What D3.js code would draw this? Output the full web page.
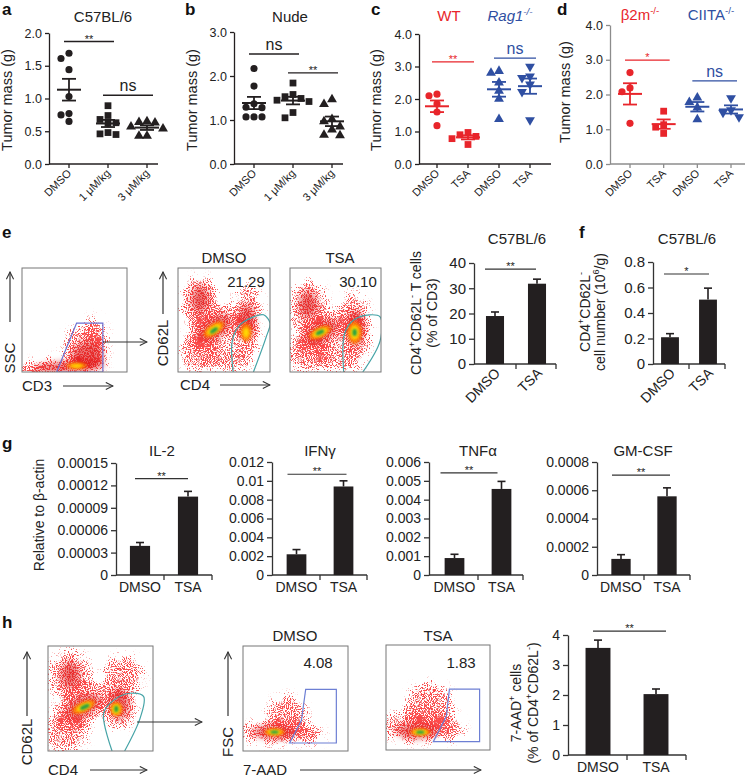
<!DOCTYPE html>
<html><head><meta charset="utf-8">
<script src="https://cdn.jsdelivr.net/npm/d3@7"></script>
<style>body{margin:0;background:#fff}svg{display:block}</style>
</head><body><script>
// ================= DATA =================
// Panel a – C57BL/6 tumour mass (g)
const aCats = ["DMSO", "1 μM/kg", "3 μM/kg"];
const aDMSO = [1.69, 1.61, 1.44, 1.03, 0.77, 0.75, 0.65];
const aLow  = [0.89, 0.74, 0.68, 0.63, 0.62, 0.48, 0.46, 0.45];
const aHigh = [0.65, 0.64, 0.63, 0.57, 0.54, 0.43, 0.43];
const aTicks = [0, 0.5, 1, 1.5, 2];
// Panel b – Nude
const bCats = ["DMSO", "1 μM/kg", "3 μM/kg"];
const bDMSO = [2.17, 1.77, 1.37, 1.29, 1.28, 1.07, 1.07, 1.07];
const bLow  = [1.84, 1.58, 1.53, 1.49, 1.45, 1.42, 1.17, 1.05];
const bHigh = [1.47, 1.36, 1.02, 0.97, 0.85, 0.78, 0.66, 0.65];
const bTicks = [0, 1, 2, 3];
// Panel c – WT / Rag1-/-
const cCats = ["DMSO", "TSA", "DMSO", "TSA"];
const cWtDMSO  = [2.15, 2.10, 1.85, 1.60, 1.18];
const cWtTSA   = [0.97, 0.90, 0.85, 0.78, 0.60];
const cRagDMSO = [2.86, 2.80, 2.50, 2.25, 2.00, 1.38];
const cRagTSA  = [3.00, 2.70, 2.65, 2.45, 2.22, 1.35];
const cTicks = [0, 1, 2, 3, 4];
// Panel d – β2m-/- / CIITA-/-
const dCats = ["DMSO", "TSA", "DMSO", "TSA"];
const dB2mDMSO   = [2.63, 2.19, 2.08, 1.17];
const dB2mTSA    = [1.52, 1.13, 1.06, 0.88];
const dCiitaDMSO = [1.91, 1.78, 1.62, 1.28];
const dCiitaTSA  = [1.90, 1.55, 1.48, 1.35];
const dTicks = [0, 1, 2, 3, 4];
// Bar panels
const barCats = ["DMSO", "TSA"];
const eMean = [19.0, 31.8],   eSem = [1.6, 1.8];
const eTicks = [0, 10, 20, 30, 40], eTickLabels = ["0", "10", "20", "30", "40"];
const fMean = [0.21, 0.505],  fSem = [0.028, 0.09];
const fTicks = [0, 0.2, 0.4, 0.6, 0.8], fTickLabels = ["0", "0.2", "0.4", "0.6", "0.8"];
const il2Mean = [0.000039, 0.000105], il2Sem = [0.0000045, 0.000007];
const il2Ticks = [0, 0.00003, 0.00006, 0.00009, 0.00012, 0.00015];
const il2TickLabels = ["0", "0.00003", "0.00006", "0.00009", "0.00012", "0.00015"];
const ifnMean = [0.0022, 0.0094], ifnSem = [0.0005, 0.0006];
const ifnTicks = [0, 0.002, 0.004, 0.006, 0.008, 0.01, 0.012];
const ifnTickLabels = ["0", "0.002", "0.004", "0.006", "0.008", "0.01", "0.012"];
const tnfMean = [0.0009, 0.00457], tnfSem = [0.0002, 0.0004];
const tnfTicks = [0, 0.001, 0.002, 0.003, 0.004, 0.005, 0.006];
const tnfTickLabels = ["0", "0.001", "0.002", "0.003", "0.004", "0.005", "0.006"];
const gmMean = [0.000114, 0.000557], gmSem = [0.00003, 0.00006];
const gmTicks = [0, 0.0002, 0.0004, 0.0006, 0.0008];
const gmTickLabels = ["0", "0.0002", "0.0004", "0.0006", "0.0008"];
const hMean = [3.57, 2.03], hSem = [0.26, 0.17];
const hTicks = [0, 1, 2, 3, 4], hTickLabels = ["0", "1", "2", "3", "4"];
// Flow-cytometry gate percentages
const eGatePct = ["21.29", "30.10"];
const hGatePct = ["4.08", "1.83"];
// Flow-cytometry density clusters: [x, y, rx, ry, angle, layer] in axis fractions
const flowE1Blobs = [
  [0.38,0.06,0.44,0.08,-6,"r"],[0.60,0.22,0.20,0.22,-30,"r"],[0.70,0.36,0.10,0.17,-10,"r"],[0.10,0.03,0.14,0.05,0,"r"],
  [0.45,0.05,0.34,0.05,-4,"R"],[0.62,0.16,0.15,0.13,-30,"R"],
  [0.52,0.06,0.10,0.03,0,"o"],[0.52,0.06,0.06,0.02,0,"y"]];
const flowE1Gate = [[0.52,0.47],[0.77,0.47],[0.77,0.0],[0.33,0.0]];
const flowE2Blobs = [
  [0.24,0.66,0.21,0.26,0,"r"],[0.40,0.42,0.32,0.18,-35,"r"],[0.76,0.60,0.16,0.23,0,"r"],[0.74,0.34,0.16,0.18,0,"r"],
  [0.22,0.20,0.22,0.18,0,"r"],[0.55,0.12,0.26,0.11,0,"r"],
  [0.24,0.70,0.09,0.13,0,"R"],[0.40,0.42,0.20,0.09,-35,"R"],[0.75,0.48,0.08,0.17,0,"R"],
  [0.39,0.41,0.13,0.055,-35,"o"],[0.39,0.41,0.09,0.035,-35,"y"],[0.39,0.40,0.05,0.02,-35,"g"],
  [0.74,0.38,0.06,0.09,0,"o"],[0.74,0.38,0.035,0.05,0,"y"]];
const flowE2Gate = [[0.60,0],[0.59,0.30],[0.67,0.45],[0.82,0.53],[0.93,0.55],[1.0,0.47],[0.96,0.34],[0.82,0]];
const flowE3Blobs = [
  [0.20,0.62,0.21,0.26,0,"r"],[0.36,0.38,0.32,0.18,-30,"r"],[0.70,0.55,0.16,0.21,0,"r"],[0.72,0.34,0.17,0.19,0,"r"],
  [0.20,0.18,0.22,0.17,0,"r"],[0.55,0.12,0.26,0.11,0,"r"],
  [0.20,0.65,0.09,0.13,0,"R"],[0.34,0.38,0.20,0.09,-30,"R"],[0.72,0.42,0.09,0.17,0,"R"],
  [0.33,0.38,0.13,0.05,-25,"o"],[0.33,0.38,0.09,0.035,-25,"y"],[0.33,0.38,0.05,0.02,-25,"g"],
  [0.71,0.38,0.08,0.11,0,"o"],[0.71,0.38,0.05,0.07,0,"y"],[0.71,0.38,0.025,0.035,0,"g"]];
const flowE3Gate = [[0.59,0],[0.60,0.37],[0.70,0.50],[0.88,0.55],[0.99,0.53],[0.99,0.30],[0.80,0]];
const flowH1Blobs = [
  [0.21,0.72,0.20,0.24,0,"r"],[0.33,0.44,0.30,0.19,-30,"r"],[0.72,0.72,0.19,0.19,0,"r"],[0.67,0.40,0.17,0.19,0,"r"],
  [0.18,0.18,0.20,0.18,0,"r"],
  [0.21,0.72,0.08,0.12,0,"R"],[0.33,0.42,0.18,0.09,-30,"R"],[0.68,0.45,0.09,0.14,0,"R"],
  [0.34,0.42,0.12,0.05,-25,"o"],[0.34,0.42,0.08,0.03,-25,"y"],[0.35,0.42,0.05,0.02,-25,"g"],
  [0.65,0.40,0.06,0.07,0,"o"],[0.65,0.40,0.04,0.05,0,"y"],[0.65,0.40,0.02,0.03,0,"g"]];
const flowH1Gate = [[0.61,0],[0.53,0.36],[0.62,0.48],[0.78,0.55],[0.91,0.52],[0.88,0.32],[0.73,0]];
const flowH2Blobs = [
  [0.30,0.18,0.36,0.11,0,"r"],[0.42,0.32,0.19,0.21,0,"r"],[0.64,0.15,0.13,0.08,0,"r"],
  [0.30,0.18,0.20,0.06,0,"R"],[0.30,0.18,0.10,0.035,0,"o"],[0.30,0.18,0.07,0.025,0,"y"],[0.30,0.18,0.04,0.015,0,"g"]];
const flowH2Gate = [[0.597,0.586],[0.889,0.586],[0.889,0.076],[0.444,0.076],[0.556,0.29]];
const flowH3Blobs = [
  [0.28,0.22,0.34,0.15,0,"r"],[0.42,0.40,0.23,0.25,0,"r"],[0.62,0.20,0.13,0.11,0,"r"],
  [0.30,0.18,0.20,0.07,0,"R"],[0.33,0.17,0.10,0.035,0,"o"],[0.33,0.17,0.07,0.025,0,"y"],[0.33,0.17,0.04,0.015,0,"g"]];
const flowH3Gate = [[0.61,0.58],[0.90,0.58],[0.90,0.08],[0.455,0.08],[0.58,0.32]];

// ================= SETUP =================
const FONT = '"Liberation Sans", Arial, Helvetica, sans-serif';
const INK = "#231f20", RED = "#e8252b", BLUE = "#2f4fa2";
const svg = d3.select("body").append("svg").attr("width", 746).attr("height", 780)
  .style("font-family", FONT);
const defs = svg.append("defs");

(function(){
  const sp = defs.append("filter").attr("id","speck").attr("x","-30%").attr("y","-30%")
    .attr("width","160%").attr("height","160%").attr("color-interpolation-filters","sRGB");
  sp.append("feGaussianBlur").attr("in","SourceGraphic").attr("stdDeviation",4).attr("result","b");
  sp.append("feTurbulence").attr("type","fractalNoise").attr("baseFrequency",0.95).attr("numOctaves",1).attr("seed",4).attr("result","n");
  sp.append("feColorMatrix").attr("in","n").attr("type","matrix")
    .attr("values","0 0 0 0 0  0 0 0 0 0  0 0 0 0 0  3 0 0 0 -1.1").attr("result","na");
  sp.append("feFlood").attr("flood-color","#ef1b1b").attr("result","fl");
  sp.append("feComposite").attr("in","fl").attr("in2","na").attr("operator","in").attr("result","nred");
  sp.append("feComposite").attr("in","b").attr("in2","nred").attr("operator","arithmetic")
    .attr("k1",0).attr("k2",1).attr("k3",0.8).attr("k4",0).attr("result","m");
  sp.append("feComponentTransfer").attr("in","m").append("feFuncA").attr("type","linear").attr("slope",4).attr("intercept",-3.2);
  [["b1",1.2],["b2",1.8],["b3",3]].forEach(([id,s])=>{
    defs.append("filter").attr("id",id).attr("x","-50%").attr("y","-50%").attr("width","200%").attr("height","200%")
      .append("feGaussianBlur").attr("stdDeviation",s);
  });
  const mk = defs.append("marker").attr("id","arr").attr("viewBox","0 -5 10 10").attr("refX",9).attr("refY",0)
    .attr("markerWidth",9).attr("markerHeight",9).attr("markerUnits","userSpaceOnUse").attr("orient","auto");
  mk.append("path").attr("d","M1,-4L9,0L1,4").attr("fill","none").attr("stroke","#333").attr("stroke-width",1.2);
})();

function txt(g, x, y, s, o = {}) {
  const size = o.size || 14;
  const t = g.append("text").attr("x", x).attr("y", y).attr("font-size", size)
    .attr("text-anchor", o.anchor || "middle").attr("fill", o.fill || "#222");
  if (o.weight) t.attr("font-weight", o.weight);
  if (o.italic) t.attr("font-style", "italic");
  if (o.rotate != null) t.attr("transform", `rotate(${o.rotate},${x},${y})`);
  if (Array.isArray(s)) {
    let up = false;
    s.forEach(p => {
      const sp = t.append("tspan").text(p[0]);
      if (p[1] === "sup") { sp.attr("font-size", size * 0.65); if (!up) { sp.attr("dy", -size * 0.4); up = true; } }
      else if (up) { sp.attr("dy", size * 0.4); up = false; }
      if (p[2]) sp.attr("font-style", "italic");
    });
  } else t.text(s);
  return t;
}
function styleAxis(sel, color, fs, textColor) {
  sel.selectAll("path,line").attr("stroke", color).attr("stroke-width", 1.3);
  sel.selectAll("text").attr("font-size", fs).attr("fill", textColor || "#222").style("font-family", FONT);
}
function swarm(vals, y, step) {
  const order = vals.map((v, i) => i).sort((a, b) => vals[b] - vals[a]);
  const placed = [], off = new Array(vals.length).fill(0);
  order.forEach(i => {
    const py = y(vals[i]);
    for (const o of [0, -step, step, -2 * step, 2 * step]) {
      if (placed.every(p => Math.hypot(p[0] - o, p[1] - py) >= step - 0.5)) { off[i] = o; placed.push([o, py]); break; }
    }
  });
  return off;
}
const shapes = { circle: [d3.symbolCircle, 40, 0], square: [d3.symbolSquare, 46, 0], up: [d3.symbolTriangle, 42, 0], down: [d3.symbolTriangle, 42, 180] };

function dotPanel(c) {
  const g = svg.append("g");
  const y = d3.scaleLinear().domain([0, c.max]).range([c.yb, c.yt]);
  const x = d3.scalePoint().domain(d3.range(c.cats.length)).range([c.c0, c.c1]);
  const ac = c.axisColor || INK;
  const ya = g.append("g").attr("transform", `translate(${c.ax},0)`)
    .call(d3.axisLeft(y).tickValues(c.ticks).tickFormat(d3.format(".1f")).tickSize(4).tickSizeOuter(0).tickPadding(3));
  styleAxis(ya, ac, 12.5);
  g.append("line").attr("x1", c.ax).attr("x2", c.xe).attr("y1", c.yb).attr("y2", c.yb).attr("stroke", ac).attr("stroke-width", 1.3);
  c.cats.forEach((cat, i) => {
    g.append("line").attr("x1", x(i)).attr("x2", x(i)).attr("y1", c.yb).attr("y2", c.yb + 4).attr("stroke", ac).attr("stroke-width", 1.3);
    txt(g, x(i) + 3, c.yb + 10, cat, { size: 11, anchor: "end", rotate: -45 });
  });
  c.groups.forEach((grp, i) => {
    const cx = x(i);
    const off = swarm(grp.vals, y, 8);
    const [type, size, rot] = shapes[grp.shape];
    g.selectAll(null).data(grp.vals).enter().append("path")
      .attr("d", d3.symbol().type(type).size(size))
      .attr("transform", (d, k) => `translate(${cx + off[k]},${y(d)}) rotate(${rot})`)
      .attr("fill", grp.color);
    const m = d3.mean(grp.vals), s = d3.deviation(grp.vals) / Math.sqrt(grp.vals.length);
    g.append("line").attr("x1", cx - 12).attr("x2", cx + 12).attr("y1", y(m)).attr("y2", y(m)).attr("stroke", grp.color).attr("stroke-width", 2);
    g.append("line").attr("x1", cx).attr("x2", cx).attr("y1", y(m - s)).attr("y2", y(m + s)).attr("stroke", grp.color).attr("stroke-width", 1.8);
    [m - s, m + s].forEach(v => g.append("line").attr("x1", cx - 7).attr("x2", cx + 7).attr("y1", y(v)).attr("y2", y(v)).attr("stroke", grp.color).attr("stroke-width", 1.8));
  });
  c.sig.forEach(sg => {
    const x1 = x(sg.i0) - 5, x2 = x(sg.i1) + 6, yy = y(sg.v);
    g.append("line").attr("x1", x1).attr("x2", x2).attr("y1", yy).attr("y2", yy).attr("stroke", sg.color || INK).attr("stroke-width", 1.3);
    if (sg.label === "ns") txt(g, (x1 + x2) / 2, yy - 4, "ns", { size: 16, fill: sg.color || "#222" });
    else txt(g, (x1 + x2) / 2, yy + 1, sg.label, { size: 11, fill: sg.color || "#222" });
  });
  txt(g, c.ylabX, c.ylabY, "Tumor mass (g)", { size: 14.5, rotate: -90 });
}

function barPanel(c) {
  const g = svg.append("g");
  const y = d3.scaleLinear().domain([0, c.max]).range([c.yb, c.yt]);
  const x = d3.scaleBand().domain(barCats).range([c.x0, c.x1]);
  const ya = g.append("g").attr("transform", `translate(${c.ax},0)`)
    .call(d3.axisLeft(y).tickValues(c.ticks).tickFormat((d, i) => c.labels[i]).tickSize(5).tickSizeOuter(0).tickPadding(3));
  styleAxis(ya, "#333", c.fs);
  g.append("line").attr("x1", c.ax).attr("x2", c.xe).attr("y1", c.yb).attr("y2", c.yb).attr("stroke", "#333").attr("stroke-width", 1.3);
  [x(barCats[1]), c.xe].forEach(tx => g.append("line").attr("x1", tx).attr("x2", tx).attr("y1", c.yb).attr("y2", c.yb + 5).attr("stroke", "#333").attr("stroke-width", 1.3));
  const bw = x.bandwidth() * c.frac;
  barCats.forEach((cat, i) => {
    const cx = x(cat) + x.bandwidth() / 2;
    const top = c.mean[i] + c.sem[i];
    g.append("line").attr("x1", cx).attr("x2", cx).attr("y1", y(c.mean[i])).attr("y2", y(top)).attr("stroke", INK).attr("stroke-width", 1.6);
    g.append("line").attr("x1", cx - 4).attr("x2", cx + 4).attr("y1", y(top)).attr("y2", y(top)).attr("stroke", INK).attr("stroke-width", 1.6);
    g.append("rect").attr("x", cx - bw / 2).attr("width", bw).attr("y", y(c.mean[i])).attr("height", y(0) - y(c.mean[i])).attr("fill", INK);
    if (c.rot) txt(g, cx + 6, c.yb + 10, cat, { size: 14, anchor: "end", rotate: -45 });
    else txt(g, cx, c.yb + 17, cat, { size: 14 });
  });
  const c0 = x(barCats[0]) + x.bandwidth() / 2, c1 = x(barCats[1]) + x.bandwidth() / 2;
  const sx1 = c0 + c.sp[0], sx2 = c1 + c.sp[1], sy = y(c.sigV);
  g.append("line").attr("x1", sx1).attr("x2", sx2).attr("y1", sy).attr("y2", sy).attr("stroke", "#333").attr("stroke-width", 1.2);
  txt(g, (sx1 + sx2) / 2, sy + 1, c.sig, { size: 11 });
  if (c.title) txt(g, c.title[1], c.title[2], c.title[0], { size: 15 });
}

const layerStyle = {
  r: { fill: "#ef1b1b", op: 0.55, filter: "url(#speck)" },
  R: { fill: "#dc1212", op: 0.6, filter: "url(#b3)" },
  o: { fill: "#ff7a00", op: 0.85, filter: "url(#b2)" },
  y: { fill: "#ffe400", op: 0.9, filter: "url(#b2)" },
  g: { fill: "#1f9e47", op: 0.95, filter: "url(#b1)" }
};
let clipN = 0;
function flowPlot(box, blobs, gate, gateColor, curved) {
  const [x0, y0, x1, y1] = box;
  const x = d3.scaleLinear().domain([0, 1]).range([x0, x1]);
  const y = d3.scaleLinear().domain([0, 1]).range([y1, y0]);
  const id = "clip" + (clipN++);
  defs.append("clipPath").attr("id", id).append("rect").attr("x", x0).attr("y", y0).attr("width", x1 - x0).attr("height", y1 - y0);
  const g = svg.append("g").attr("clip-path", `url(#${id})`);
  ["r", "R", "o", "y", "g"].forEach(L => {
    const st = layerStyle[L];
    const lg = g.append("g").attr("filter", st.filter);
    blobs.filter(b => b[5] === L).forEach(b => {
      const cx = x(b[0]), cy = y(b[1]);
      lg.append("ellipse").attr("cx", cx).attr("cy", cy)
        .attr("rx", b[2] * (x1 - x0)).attr("ry", b[3] * (y1 - y0))
        .attr("transform", `rotate(${b[4]},${cx},${cy})`)
        .attr("fill", st.fill).attr("fill-opacity", st.op);
    });
  });
  const line = d3.line().x(d => x(d[0])).y(d => y(d[1])).curve(curved ? d3.curveCatmullRom.alpha(0.5) : d3.curveLinearClosed);
  g.append("path").attr("d", line(gate)).attr("fill", "none").attr("stroke", gateColor).attr("stroke-width", 1.2);
  svg.append("rect").attr("x", x0).attr("y", y0).attr("width", x1 - x0).attr("height", y1 - y0)
    .attr("fill", "none").attr("stroke", "#777").attr("stroke-width", 1);
}
function arrow(x1, y1, x2, y2) {
  svg.append("line").attr("x1", x1).attr("y1", y1).attr("x2", x2).attr("y2", y2)
    .attr("stroke", "#333").attr("stroke-width", 1.2).attr("marker-end", "url(#arr)");
}

// ================= PANELS a–d =================
const pL = { size: 17, weight: "bold", anchor: "start", fill: "#111" };
txt(svg, 2, 15, "a", pL); txt(svg, 185, 15, "b", pL); txt(svg, 371, 15, "c", pL); txt(svg, 557, 15, "d", pL);

txt(svg, 103, 22, "C57BL/6", { size: 15 });
dotPanel({ cats: aCats, max: 2, ticks: aTicks, ax: 49, xe: 158, yb: 164, yt: 33, c0: 69, c1: 147, ylabX: 12, ylabY: 100,
  groups: [{ vals: aDMSO, shape: "circle", color: INK }, { vals: aLow, shape: "square", color: INK }, { vals: aHigh, shape: "up", color: INK }],
  sig: [{ i0: 0, i1: 1, v: 1.87, label: "**" }, { i0: 1, i1: 2, v: 1.05, label: "ns" }] });

txt(svg, 290, 22, "Nude", { size: 15 });
dotPanel({ cats: bCats, max: 3, ticks: bTicks, ax: 234, xe: 343, yb: 164, yt: 32, c0: 254, c1: 332, ylabX: 197, ylabY: 100,
  groups: [{ vals: bDMSO, shape: "circle", color: INK }, { vals: bLow, shape: "square", color: INK }, { vals: bHigh, shape: "up", color: INK }],
  sig: [{ i0: 0, i1: 1, v: 2.5, label: "ns" }, { i0: 1, i1: 2, v: 2.07, label: "**" }] });

txt(svg, 449, 21, "WT", { size: 15, fill: RED });
txt(svg, 510, 21, [["Rag1", null, true], ["-/-", "sup", true]], { size: 15, fill: BLUE });
dotPanel({ cats: cCats, max: 4, ticks: cTicks, ax: 419, xe: 551, yb: 164, yt: 34, c0: 437, c1: 530, ylabX: 381, ylabY: 100,
  groups: [{ vals: cWtDMSO, shape: "circle", color: RED }, { vals: cWtTSA, shape: "square", color: RED },
           { vals: cRagDMSO, shape: "up", color: BLUE }, { vals: cRagTSA, shape: "down", color: BLUE }],
  sig: [{ i0: 0, i1: 1, v: 3.14, label: "**", color: RED }, { i0: 2, i1: 3, v: 3.26, label: "ns", color: BLUE }] });

txt(svg, 640, 20, [["β2m"], ["-/-", "sup"]], { size: 15, fill: RED });
txt(svg, 711, 20, [["CIITA"], ["-/-", "sup"]], { size: 15, fill: BLUE });
dotPanel({ cats: dCats, max: 4, ticks: dTicks, ax: 610, xe: 745, yb: 164, yt: 25, c0: 630, c1: 731, ylabX: 570, ylabY: 92, axisColor: "#8c8c8c",
  groups: [{ vals: dB2mDMSO, shape: "circle", color: RED }, { vals: dB2mTSA, shape: "square", color: RED },
           { vals: dCiitaDMSO, shape: "up", color: BLUE }, { vals: dCiitaTSA, shape: "down", color: BLUE }],
  sig: [{ i0: 0, i1: 1, v: 2.99, label: "*", color: RED }, { i0: 2, i1: 3, v: 2.39, label: "ns", color: BLUE }] });

// ================= PANEL e =================
txt(svg, 2, 238, "e", pL);
flowPlot([22, 268, 127, 372], flowE1Blobs, flowE1Gate, "#6b6fd0", false);
arrow(10, 322, 10, 272);
txt(svg, 15, 358, "SSC", { size: 15, rotate: -90 });
txt(svg, 22, 391, "CD3", { size: 15, anchor: "start" });
arrow(63, 386, 113, 386);
arrow(103, 342, 147, 342);

txt(svg, 224, 263, "DMSO", { size: 15 });
txt(svg, 340, 263, "TSA", { size: 15 });
flowPlot([178, 268, 270, 372], flowE2Blobs, flowE2Gate, "#45a3a6", true);
flowPlot([290, 268, 381, 372], flowE3Blobs, flowE3Gate, "#45a3a6", true);
txt(svg, 246, 287, eGatePct[0], { size: 15 });
txt(svg, 358, 287, eGatePct[1], { size: 15 });
arrow(163, 314, 163, 272);
txt(svg, 168, 343, "CD62L", { size: 15, rotate: -90 });
txt(svg, 180, 390, "CD4", { size: 15, anchor: "start" });
arrow(220, 385, 270, 385);

barPanel({ ax: 474, x0: 474, x1: 558, xe: 556, yb: 364, yt: 263, max: 40, ticks: eTicks, labels: eTickLabels, fs: 15,
  mean: eMean, sem: eSem, frac: 0.43, rot: true, sig: "**", sigV: 37.6, sp: [-10, -1], title: ["C57BL/6", 517, 244] });
txt(svg, 421, 313, [["CD4"], ["+", "sup"], ["CD62L"], ["-", "sup"], [" T cells"]], { size: 14, rotate: -90 });
txt(svg, 437, 313, "(% of CD3)", { size: 14, rotate: -90 });

// ================= PANEL f =================
txt(svg, 579, 238, "f", pL);
barPanel({ ax: 653, x0: 651, x1: 727, xe: 725, yb: 364, yt: 262, max: 0.8, ticks: fTicks, labels: fTickLabels, fs: 15,
  mean: fMean, sem: fSem, frac: 0.47, rot: true, sig: "*", sigV: 0.706, sp: [-6, 1], title: ["C57BL/6", 687, 244] });
txt(svg, 590, 312, [["CD4"], ["+", "sup"], ["CD62L"], ["-", "sup"]], { size: 14, rotate: -90 });
txt(svg, 605, 312, [["cell number (10"], ["6", "sup"], ["/g)"]], { size: 14, rotate: -90 });

// ================= PANEL g =================
txt(svg, 2, 449, "g", pL);
barPanel({ ax: 116, x0: 116, x1: 212, xe: 212, yb: 575, yt: 463, max: 0.00015, ticks: il2Ticks, labels: il2TickLabels, fs: 14,
  mean: il2Mean, sem: il2Sem, frac: 0.42, rot: false, sig: "**", sigV: 0.000129, sp: [-5, 0], title: ["IL-2", 162, 456] });
barPanel({ ax: 272, x0: 273, x1: 367, xe: 367, yb: 575, yt: 462, max: 0.012, ticks: ifnTicks, labels: ifnTickLabels, fs: 14,
  mean: ifnMean, sem: ifnSem, frac: 0.42, rot: false, sig: "**", sigV: 0.0107, sp: [-9, 3], title: ["IFNγ", 320, 456] });
barPanel({ ax: 429, x0: 431, x1: 525, xe: 523, yb: 575, yt: 462, max: 0.006, ticks: tnfTicks, labels: tnfTickLabels, fs: 14,
  mean: tnfMean, sem: tnfSem, frac: 0.42, rot: false, sig: "**", sigV: 0.00542, sp: [-14, -4], title: ["TNFα", 478, 456] });
barPanel({ ax: 597, x0: 598, x1: 690, xe: 690, yb: 575, yt: 462, max: 0.0008, ticks: gmTicks, labels: gmTickLabels, fs: 14,
  mean: gmMean, sem: gmSem, frac: 0.42, rot: false, sig: "**", sigV: 0.000707, sp: [-9, 3], title: ["GM-CSF", 643, 456] });
txt(svg, 44, 515, "Relative to β-actin", { size: 14, rotate: -90 });

// ================= PANEL h =================
txt(svg, 2, 628, "h", pL);
flowPlot([48, 646, 153, 751], flowH1Blobs, flowH1Gate, "#45a3a6", true);
arrow(27, 716, 27, 652);
txt(svg, 32, 742, "CD62L", { size: 15, rotate: -90 });
txt(svg, 48, 775, "CD4", { size: 15, anchor: "start" });
arrow(90, 770, 147, 770);
arrow(137, 722, 202, 722);

txt(svg, 295, 641, "DMSO", { size: 15 });
txt(svg, 438, 641, "TSA", { size: 15 });
flowPlot([243, 646, 348, 751], flowH2Blobs, flowH2Gate, "#6d7fd4", false);
flowPlot([386, 645, 490, 750], flowH3Blobs, flowH3Gate, "#6d7fd4", false);
txt(svg, 318, 668, hGatePct[0], { size: 15 });
txt(svg, 461, 668, hGatePct[1], { size: 15 });
arrow(228, 716, 228, 652);
txt(svg, 233, 742, "FSC", { size: 15, rotate: -90 });
txt(svg, 243, 775, "7-AAD", { size: 15, anchor: "start" });
arrow(300, 770, 481, 770);

barPanel({ ax: 568, x0: 569, x1: 685, xe: 686, yb: 755, yt: 635, max: 4, ticks: hTicks, labels: hTickLabels, fs: 14,
  mean: hMean, sem: hSem, frac: 0.43, rot: false, sig: "**", sigV: 4.13, sp: [-5, 10] });
txt(svg, 521, 703, [["7-AAD"], ["+", "sup"], [" cells"]], { size: 14, rotate: -90 });
txt(svg, 538, 703, [["(% of CD4"], ["+", "sup"], ["CD62L"], ["-", "sup"], [")"]], { size: 14, rotate: -90 });
</script></body></html>
